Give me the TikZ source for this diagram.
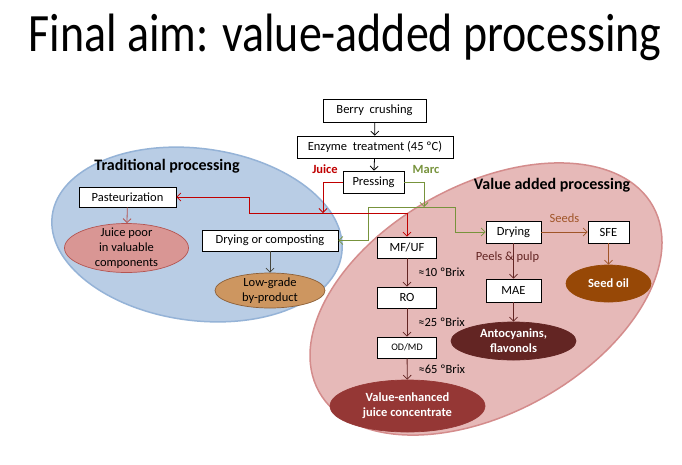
\documentclass[tikz,border=0pt]{standalone}
\usepackage{fontspec}
\setmainfont{Carlito}
\usepackage{graphicx}
\usetikzlibrary{arrows.meta,shapes.geometric}

\definecolor{tradfill}{RGB}{185,205,229}
\definecolor{tradline}{RGB}{149,179,215}
\definecolor{vapfill}{RGB}{230,185,184}
\definecolor{vapline}{RGB}{212,140,140}
\definecolor{juicered}{RGB}{192,0,0}
\definecolor{marcgreen}{RGB}{119,147,60}
\definecolor{poorfill}{RGB}{217,150,148}
\definecolor{poorline}{RGB}{180,85,82}
\definecolor{lowfill}{RGB}{205,150,96}
\definecolor{lowline}{RGB}{140,95,55}
\definecolor{oilfill}{RGB}{151,72,6}
\definecolor{seedbrown}{RGB}{160,85,40}
\definecolor{antofill}{RGB}{99,37,35}
\definecolor{concfill}{RGB}{149,55,53}
\definecolor{grayarr}{RGB}{70,70,60}

\tikzset{
  stepbox/.style={draw, fill=white, line width=0.7pt, minimum height=21pt, inner sep=1pt, font=\fontsize{12.5}{15}\selectfont},
  blob/.style={ellipse, draw, line width=0.7pt, inner sep=0pt},
  blobtext/.style={align=center, inner sep=0pt, font=\fontsize{12.5}{15}\selectfont},
  whitetext/.style={blobtext, text=white, font=\bfseries\fontsize{12.5}{15}\selectfont},
  flow/.style={line width=0.8pt, -{Straight Barb[length=4pt,width=8pt]}},
  brix/.style={right, xshift=11pt, inner sep=0pt, text=black, font=\fontsize{12.5}{15}\selectfont},
  head/.style={font=\bfseries\fontsize{16}{18}\selectfont}
}

\begin{document}
\begin{tikzpicture}[x=1pt,y=-1pt]
  \fill[white] (0,0) rectangle (682,464);
  \useasboundingbox (0,0) rectangle (682,464);

  \node[anchor=base, font=\fontsize{54}{60}\selectfont] (title) at (345,51.6) {\scalebox{0.85}[1]{Final aim: value-added processing}};

  % the two areas
  \draw[fill=tradfill, draw=tradline, line width=1.5pt, rotate around={-7.5:(197,234.5)}] (197,234.5) ellipse [x radius=146pt, y radius=86pt];
  \draw[fill=vapfill, draw=vapline, line width=1.5pt, rotate around={29:(486,299)}] (486,299) ellipse [x radius=191pt, y radius=114pt];
  \node[head] (tradlbl) at (167,166) {Traditional processing};
  \node[head] (vaplbl) at (552,185) {Value added processing};

  % steps
  \node[stepbox, minimum width=103pt, minimum height=23pt] (crush) at (374.5,110.5) {Berry\ \ crushing};
  \node[stepbox, minimum width=156pt, minimum height=22pt] (enzyme) at (375,147) {Enzyme\ \ treatment (45 ºC)};
  \node[stepbox, minimum width=61pt, minimum height=22pt] (press) at (373.5,182) {Pressing};
  \node[stepbox, minimum width=97pt, minimum height=20pt] (past) at (127.5,197) {Pasteurization};
  \node[stepbox, minimum width=136pt] (compost) at (270,240.5) {Drying or composting};
  \node[stepbox, minimum width=59pt] (mfuf) at (407,247.5) {MF/UF};
  \node[stepbox, minimum width=59pt] (ro) at (407,297.5) {RO};
  \node[stepbox, minimum width=59pt, font=\fontsize{10}{12}\selectfont] (odmd) at (407,347.5) {OD/MD};
  \node[stepbox, minimum width=55pt, minimum height=22pt] (dry) at (513.5,232) {Drying};
  \node[stepbox, minimum width=41pt, minimum height=22pt] (sfe) at (608.5,232) {SFE};
  \node[stepbox, minimum width=55pt, minimum height=23pt] (mae) at (513.5,290.5) {MAE};

  % products
  \node[blob, fill=poorfill, draw=poorline, minimum width=124pt, minimum height=49pt,
    label={[blobtext]center:{Juice poor\\in valuable\\components}}] (poor) at (126.5,248) {};
  \node[blob, fill=lowfill, draw=lowline, minimum width=110pt, minimum height=35pt,
    label={[blobtext]center:{Low-grade\\by-product}}] (low) at (270,290.5) {};
  \node[blob, fill=oilfill, draw=oilfill, minimum width=85pt, minimum height=37pt,
    label={[whitetext]center:{Seed oil}}] (oil) at (608.5,283.5) {};
  \node[blob, fill=antofill, draw=antofill, minimum width=125pt, minimum height=38pt,
    label={[whitetext]center:{Antocyanins,\\flavonols}}] (anto) at (513.5,341) {};
  \node[blob, fill=concfill, draw=concfill, minimum width=155pt, minimum height=52pt,
    label={[whitetext]center:{Value-enhanced\\juice concentrate}}] (conc) at (407.5,406) {};

  % juice and marc
  \node[font=\bfseries\fontsize{12.5}{15}\selectfont, text=juicered] (juicelbl) at (325,169) {Juice};
  \node[font=\bfseries\fontsize{12.5}{15}\selectfont, text=marcgreen] (marclbl) at (426,169) {Marc};
  \coordinate (jdrop) at (323,213);
  \coordinate (jleft) at (249,213);
  \coordinate (jright) at (407,213);
  \coordinate (mdrop) at (424,207);
  \coordinate (mleft) at (368,207);
  \coordinate (mright) at (455,207);

  \draw[flow] (crush) -- (enzyme);
  \draw[flow] (enzyme) -- (press);

  \draw[flow, marcgreen] (press.east) -| (mdrop);
  \draw[marcgreen, line width=0.8pt] (mleft) -- (mright);
  \draw[flow, marcgreen] (mleft) |- (compost.east);
  \draw[flow, marcgreen] (mright) |- (dry.west);

  \draw[flow, juicered] (press.west) -| (jdrop);
  \draw[juicered, line width=0.8pt] (jleft) -- (jright);
  \draw[flow, juicered] (jright) -- (mfuf);
  \draw[flow, juicered] (jleft) |- (past.east);

  \draw[flow, poorline] (past) -- (poor);
  \draw[flow, grayarr] (compost) -- (low);
  \draw[flow, antofill] (mfuf) -- node[brix] {≈10 ºBrix} (ro);
  \draw[flow, antofill] (ro) -- node[brix] {≈25 ºBrix} (odmd);
  \draw[flow, antofill] (odmd) -- node[brix] {≈65 ºBrix} (conc);
  \draw[flow, seedbrown] (dry) -- node[above=6pt, font=\fontsize{12.5}{15}\selectfont] {Seeds} (sfe);
  \draw[flow, seedbrown] (sfe) -- (oil);
  \draw[flow, antofill] (dry) -- node[pos=0.4, xshift=-6pt, inner sep=0pt, font=\fontsize{12.5}{15}\selectfont] {Peels \& pulp} (mae);
  \draw[flow, antofill] (mae) -- (anto);
\end{tikzpicture}
\end{document}
